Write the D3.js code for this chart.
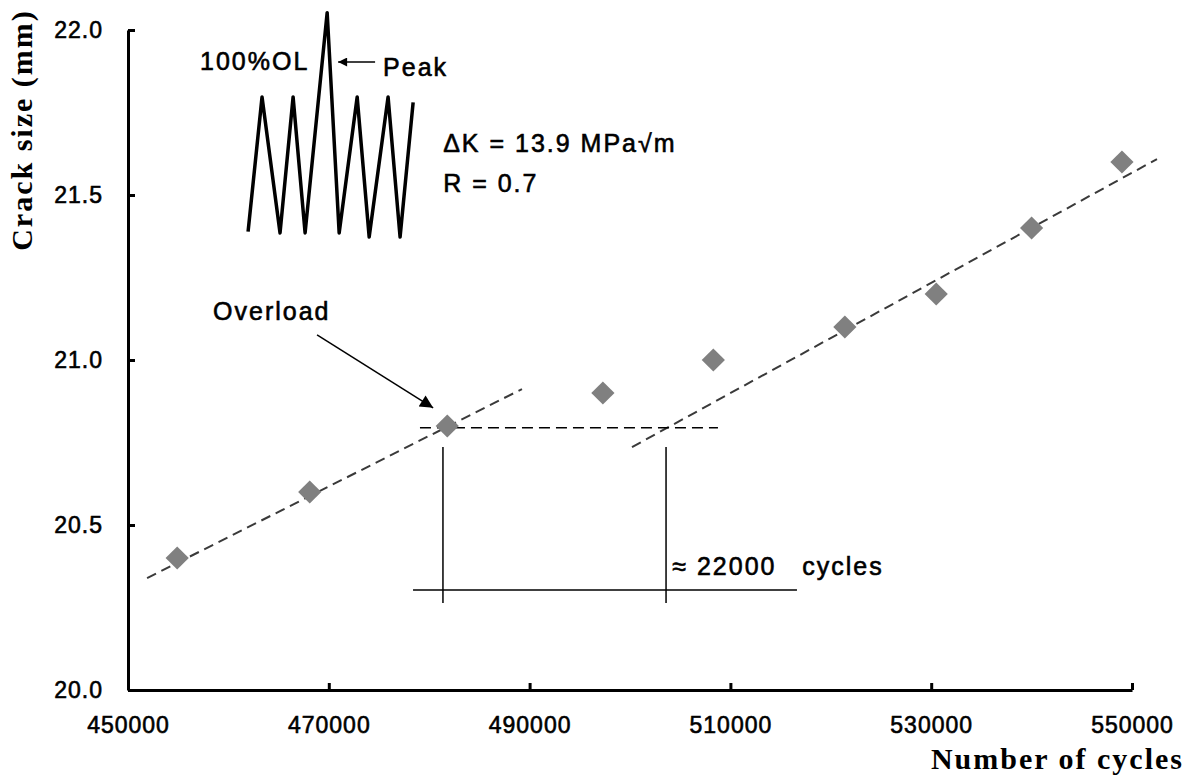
<!DOCTYPE html>
<html>
<head>
<meta charset="utf-8">
<script src="https://cdn.jsdelivr.net/npm/d3@7"></script>
<style>
  body { margin: 0; background: #fff; }
  .axis path, .axis line { stroke: #000; stroke-width: 3; }
  .axis text { font-family: "Liberation Sans", Arial, sans-serif; font-size: 23px; fill: #000; stroke: #000; stroke-width: 0.6px; letter-spacing: 1px; }
  .note { font-family: "Liberation Sans", Arial, sans-serif; font-size: 25px; fill: #000; stroke: #000; stroke-width: 0.6px; letter-spacing: 2px; }
  .title { font-family: "Liberation Serif", "Times New Roman", serif; font-weight: bold; font-size: 30px; fill: #000; letter-spacing: 2px; }
</style>
</head>
<body>
<svg id="chart" width="1196" height="780"></svg>
<script>
// measured points
let cycles = [454900, 468100, 481800, 497300, 508300, 521400, 530500, 540000, 549000];
let crack  = [20.4, 20.6, 20.8, 20.9, 21.0, 21.1, 21.2, 21.4, 21.6];

// ticks
let xTicks = [450000, 470000, 490000, 510000, 530000, 550000];
let yTicks = [20.0, 20.5, 21.0, 21.5, 22.0];

// trend lines (before / after overload)
let fitBefore = [[451900, 20.339], [489240, 20.912]];
let fitAfter  = [[500200, 20.736], [552490, 21.609]];

// delay construction
let levelLine = [[479080, 20.795], [508760, 20.795]];
let dropLines = [[[481370, 20.736], [481370, 20.264]], [[503590, 20.736], [503590, 20.264]]];
let spanLine  = [[478390, 20.303], [516630, 20.303]];

// load waveform sketch (relative time, relative load)
let waveT    = [0, 0.93, 2.13, 3.0, 3.8, 5.27, 6.07, 7.27, 8.07, 9.33, 10.13, 11.0];
let waveLoad = [0.01, 1, 0, 1, 0, 1.62, 0, 1, -0.03, 1, -0.03, 0.96];

let svg = d3.select("#chart");

let x = d3.scaleLinear().domain([450000, 550000]).range([128, 1132]);
let y = d3.scaleLinear().domain([20.0, 22.0]).range([690, 30]);

// defs: arrow heads
let defs = svg.append("defs");
defs.append("marker")
    .attr("id", "arrowBig")
    .attr("viewBox", "0 0 10 10")
    .attr("refX", 10).attr("refY", 5)
    .attr("markerWidth", 11).attr("markerHeight", 9)
    .attr("markerUnits", "userSpaceOnUse")
    .attr("orient", "auto")
    .append("path").attr("d", "M0,0 L10,5 L0,10 z").attr("fill", "#000");
defs.append("marker")
    .attr("id", "arrowOver")
    .attr("viewBox", "0 0 10 10")
    .attr("refX", 10).attr("refY", 5)
    .attr("markerWidth", 16).attr("markerHeight", 13)
    .attr("markerUnits", "userSpaceOnUse")
    .attr("orient", "auto")
    .append("path").attr("d", "M0,0 L10,5 L0,10 z").attr("fill", "#000");

// axes
let xAxis = d3.axisBottom(x)
    .tickValues(xTicks)
    .tickFormat(d3.format("d"))
    .tickSizeInner(-7)
    .tickSizeOuter(0)
    .tickPadding(27);
let yAxis = d3.axisLeft(y)
    .tickValues(yTicks)
    .tickFormat(d3.format(".1f"))
    .tickSizeInner(-7)
    .tickSizeOuter(0)
    .tickPadding(25);

svg.append("g")
    .attr("class", "axis")
    .attr("transform", "translate(0," + y(20.0) + ")")
    .call(xAxis);
svg.append("g")
    .attr("class", "axis")
    .attr("transform", "translate(" + x(450000) + ",0)")
    .call(yAxis);

let line = d3.line().x(d => x(d[0])).y(d => y(d[1]));

// trend lines
svg.selectAll(".fit")
    .data([fitBefore, fitAfter])
    .enter().append("path")
    .attr("class", "fit")
    .attr("d", line)
    .attr("fill", "none")
    .attr("stroke", "#3a3a3a")
    .attr("stroke-width", 2)
    .attr("stroke-dasharray", "10,6");

// level and construction lines
svg.append("path")
    .attr("d", line(levelLine))
    .attr("fill", "none")
    .attr("stroke", "#000")
    .attr("stroke-width", 1.5)
    .attr("stroke-dasharray", "11,6");

svg.selectAll(".drop")
    .data(dropLines)
    .enter().append("path")
    .attr("class", "drop")
    .attr("d", line)
    .attr("stroke", "#000")
    .attr("stroke-width", 1.5);

svg.append("path")
    .attr("d", line(spanLine))
    .attr("stroke", "#000")
    .attr("stroke-width", 1.5);

// data points
let diamond = d3.symbol().type(d3.symbolSquare).size(270);
svg.selectAll(".pt")
    .data(cycles.map((c, i) => [c, crack[i]]))
    .enter().append("path")
    .attr("class", "pt")
    .attr("d", diamond)
    .attr("transform", d => "translate(" + x(d[0]) + "," + y(d[1]) + ") rotate(45)")
    .attr("fill", "#808080");

// waveform inset
let wx = d3.scaleLinear().domain([0, 11]).range([x(461960), x(478400)]);
let wy = d3.scaleLinear().domain([0, 1]).range([y(21.385), y(21.797)]);
svg.append("path")
    .attr("d", d3.line().x(d => wx(d[0])).y(d => wy(d[1]))(waveT.map((t, i) => [t, waveLoad[i]])))
    .attr("fill", "none")
    .attr("stroke", "#000")
    .attr("stroke-width", 3.5)
    .attr("stroke-linejoin", "round");

// annotations
function note(cx, cy, txt) {
    return svg.append("text").attr("class", "note").attr("x", x(cx)).attr("y", y(cy)).text(txt);
}
note(457175, 21.879, "100%OL");
note(475410, 21.861, "Peak");
note(481390, 21.630, "\u0394K = 13.9 MPa\u221Am");
note(481390, 21.509, "R = 0.7");
note(458470, 21.121, "Overload");
note(504210, 20.348, "\u2248 22000");
note(517160, 20.348, "cycles");

svg.append("path")
    .attr("d", line([[474610, 21.903], [470930, 21.903]]))
    .attr("stroke", "#000")
    .attr("stroke-width", 1.5)
    .attr("marker-end", "url(#arrowBig)");

svg.append("path")
    .attr("d", line([[468830, 21.076], [480390, 20.855]]))
    .attr("stroke", "#000")
    .attr("stroke-width", 1.5)
    .attr("marker-end", "url(#arrowOver)");

// axis titles
svg.append("text")
    .attr("class", "title")
    .attr("text-anchor", "end")
    .attr("x", 1184)
    .attr("y", 769)
    .text("Number of cycles");

svg.append("text")
    .attr("class", "title")
    .attr("text-anchor", "middle")
    .attr("transform", "translate(32,130) rotate(-90)")
    .text("Crack size (mm)");
</script>
</body>
</html>
